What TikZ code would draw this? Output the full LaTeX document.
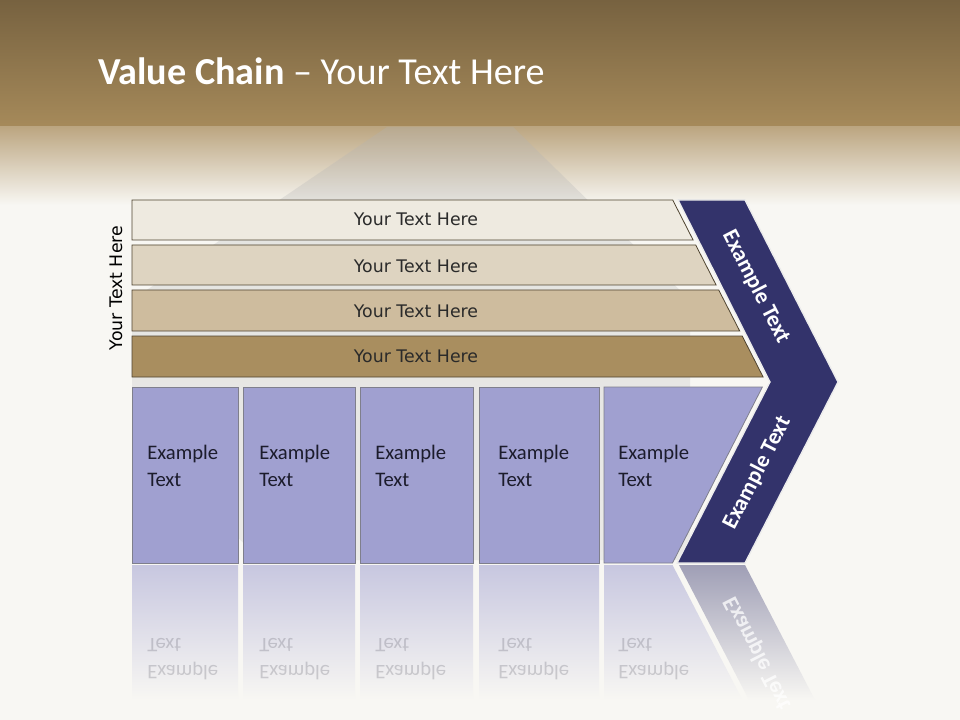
\documentclass[tikz,border=0pt]{standalone}
\usepackage{fontspec}
\setmainfont{Carlito}
\newfontfamily\barfont{DejaVu Sans}
\usetikzlibrary{shapes}

\definecolor{bandtop}{HTML}{776240}
\definecolor{bandbot}{HTML}{A68A5A}
\definecolor{fadetop}{HTML}{BCA681}
\definecolor{paper}{HTML}{F8F7F3}
\definecolor{barone}{HTML}{EEEAE0}
\definecolor{bartwo}{HTML}{DED4C1}
\definecolor{barthree}{HTML}{CEBC9E}
\definecolor{barfour}{HTML}{A98E5F}
\definecolor{barline}{HTML}{4F4430}
\definecolor{boxfill}{HTML}{A0A0D0}
\definecolor{boxline}{HTML}{7F7F8C}
\definecolor{chevron}{HTML}{33336B}
\definecolor{inktext}{HTML}{1C1C2C}
\definecolor{barink}{HTML}{2A2A2A}

\begin{document}
\begin{tikzpicture}[x=0.75pt,y=-0.75pt,
  bar/.style={draw=barline,line width=0.6pt},
  box/.style={fill=boxfill,draw=boxline,line width=0.6pt},
  bartext/.style={font=\barfont\fontsize{13}{15}\selectfont,text=barink,inner sep=0pt},
  boxtext/.style={font=\fontsize{15.5}{20}\selectfont,text=inktext,align=left,anchor=west,inner sep=0pt},
  chevtext/.style={font=\bfseries\fontsize{17}{20}\selectfont,text=white,inner sep=0pt},
  mirror/.style={boxtext,yscale=-1,opacity=0.18}]

  \useasboundingbox (0,0) rectangle (960,720);

  %% Background and title band
  \fill[paper] (0,0) rectangle (960,720);
  \shade[top color=bandtop,bottom color=bandbot] (0,0) rectangle (960,127);
  \shade[top color=fadetop,bottom color=paper] (0,127) rectangle (960,205);
  \shade[top color=gray!60,bottom color=gray!40,opacity=0.3] (387,127) -- (513,127) -- (690,300)
    -- (690,560) -- (260,560) -- (132,430) -- (132,300) -- cycle;

  \node[font=\fontsize{28.6}{34}\selectfont,text=white,anchor=base west,inner sep=0pt]
    (title) at (98,85) {\textbf{Value Chain} -- Your Text Here};

  %% Four support bars
  \draw[bar,fill=barone] (132,200) -- (672.7,200) -- (693.1,240) -- (132,240) -- cycle;
  \draw[bar,fill=bartwo] (132,245) -- (695.7,245) -- (716.1,285) -- (132,285) -- cycle;
  \draw[bar,fill=barthree] (132,290) -- (718.7,290) -- (739.7,331) -- (132,331) -- cycle;
  \draw[bar,fill=barfour] (132,336) -- (742.2,336) -- (763.1,377) -- (132,377) -- cycle;

  \node[bartext] (bar1) at (416,219) {Your Text Here};
  \node[bartext] (bar2) at (416,266) {Your Text Here};
  \node[bartext] (bar3) at (416,311) {Your Text Here};
  \node[bartext] (bar4) at (416,356.5) {Your Text Here};

  \node[bartext,text=black,rotate=90] (side) at (116,288) {Your Text Here};

  %% Reflections below the chain
  \shade[top color=boxfill!55!paper,bottom color=paper] (132,565) rectangle (238,700);
  \shade[top color=boxfill!55!paper,bottom color=paper] (243,565) rectangle (355,700);
  \shade[top color=boxfill!55!paper,bottom color=paper] (360,565) rectangle (473,700);
  \shade[top color=boxfill!55!paper,bottom color=paper] (479,565) rectangle (599,700);
  \shade[top color=boxfill!55!paper,bottom color=paper] (604,565) -- (672.5,565) -- (742.5,700) -- (604,700) -- cycle;
  \shade[top color=chevron!45!paper,bottom color=paper] (679,565) -- (745,565) -- (815,700) -- (749,700) -- cycle;

  \node[mirror] (refl1) at (147,659) {Example\\Text};
  \node[mirror] (refl2) at (259,659) {Example\\Text};
  \node[mirror] (refl3) at (375,659) {Example\\Text};
  \node[mirror] (refl4) at (498,659) {Example\\Text};
  \node[mirror] (refl5) at (618,659) {Example\\Text};
  \node[chevtext,rotate=-62.9,yscale=-1,opacity=0.75] (reflchev) at (757.5,653.5) {Example Text};

  %% Primary activity boxes
  \draw[box] (132,387) rectangle (238,563);
  \draw[box] (243,387) rectangle (355,563);
  \draw[box] (360,387) rectangle (473,563);
  \draw[box] (479,387) rectangle (599,563);
  \draw[box] (604,387) -- (762.4,387) -- (672.5,563) -- (604,563) -- cycle;

  \node[boxtext] (ex1) at (147,466) {Example\\Text};
  \node[boxtext] (ex2) at (259,466) {Example\\Text};
  \node[boxtext] (ex3) at (375,466) {Example\\Text};
  \node[boxtext] (ex4) at (498,466) {Example\\Text};
  \node[boxtext] (ex5) at (618,466) {Example\\Text};

  %% Margin chevron
  \draw[fill=chevron,draw=white!85!gray,line width=1pt]
    (678,200) -- (745,200) -- (838,382) -- (745,563) -- (677,563) -- (770,382) -- cycle;

  \node[chevtext,rotate=-62.9] (chevup) at (756,287) {Example Text};
  \node[chevtext,rotate=62.9] (chevdown) at (757,473) {Example Text};

\end{tikzpicture}
\end{document}
